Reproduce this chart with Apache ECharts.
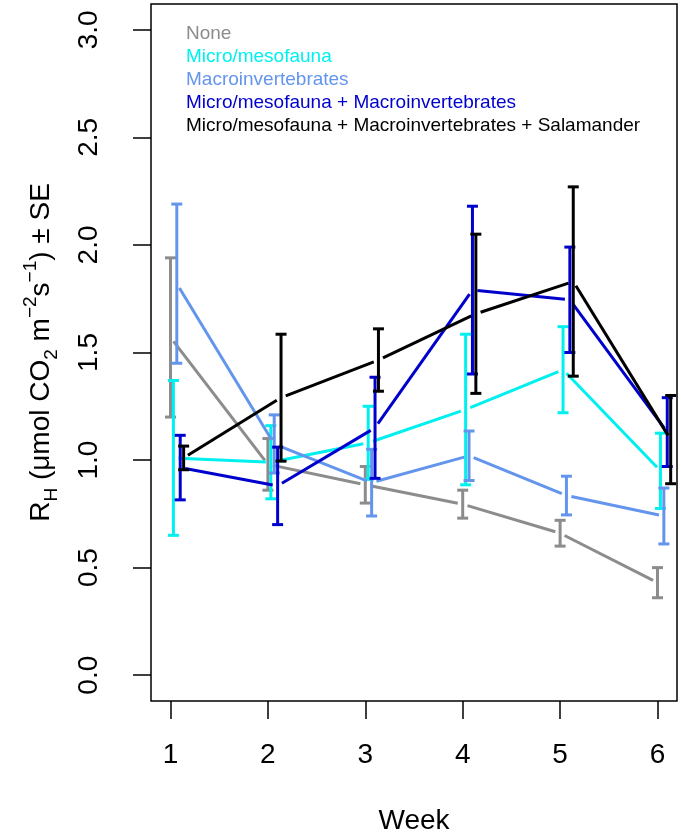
<!DOCTYPE html>
<html><head><meta charset="utf-8">
<script src="https://cdn.jsdelivr.net/npm/echarts@6/dist/echarts.min.js"></script>
<style>html,body{margin:0;padding:0;background:#fff}#c{width:681px;height:840px}</style>
</head><body><div id="c"></div>
<script>
// ---- data ----
const weeks = [1, 2, 3, 4, 5, 6];
const treatments = [
  "None",
  "Micro/mesofauna",
  "Macroinvertebrates",
  "Micro/mesofauna + Macroinvertebrates",
  "Micro/mesofauna + Macroinvertebrates + Salamander"
];
const noneMean  = [1.57, 0.98, 0.885, 0.795, 0.66, 0.43];
const noneSE    = [0.37, 0.12, 0.085, 0.065, 0.06, 0.07];
const microMean = [1.01, 0.99, 1.08, 1.235, 1.42, 0.95];
const microSE   = [0.36, 0.17, 0.17, 0.35, 0.20, 0.175];
const macroMean = [1.82, 1.075, 0.895, 1.02, 0.835, 0.74];
const macroSE   = [0.37, 0.135, 0.155, 0.115, 0.09, 0.13];
const mmMean    = [0.965, 0.88, 1.15, 1.79, 1.745, 1.13];
const mmSE      = [0.15, 0.18, 0.235, 0.39, 0.245, 0.16];
const mmsMean   = [1.01, 1.29, 1.465, 1.68, 1.83, 1.095];
const mmsSE     = [0.055, 0.295, 0.145, 0.37, 0.44, 0.205];
const dodge     = [0, 0.03, 0.065, 0.1, 0.135];   // horizontal offset of each treatment
const yTicks    = [0, 0.5, 1.0, 1.5, 2.0, 2.5, 3.0];
const xTicks    = [1, 2, 3, 4, 5, 6];

const means = [noneMean, microMean, macroMean, mmMean, mmsMean];
const ses   = [noneSE, microSE, macroSE, mmSE, mmsSE];
const colors = ["#8c8c8c", "#00f0f0", "#6495ED", "#0000CD", "#000000"];

const GAP = 5;
const series = [];
treatments.forEach((name, i) => {
  const m = means[i], s = ses[i], col = colors[i];
  const segs = [];
  for (let k = 0; k < weeks.length - 1; k++) {
    segs.push([weeks[k] + dodge[i], m[k], weeks[k + 1] + dodge[i], m[k + 1]]);
  }
  series.push({
    name: name, type: 'custom', z: 2 + i * 2, silent: true,
    itemStyle: { color: col },
    encode: { x: [0, 2], y: [1, 3] },
    data: segs,
    renderItem: function (params, api) {
      const p1 = api.coord([api.value(0), api.value(1)]);
      const p2 = api.coord([api.value(2), api.value(3)]);
      const dx = p2[0] - p1[0], dy = p2[1] - p1[1];
      const L = Math.hypot(dx, dy);
      const ux = dx / L, uy = dy / L;
      return { type: 'line', shape: { x1: p1[0] + ux * GAP, y1: p1[1] + uy * GAP, x2: p2[0] - ux * GAP, y2: p2[1] - uy * GAP },
               style: { stroke: col, lineWidth: 3 } };
    }
  });
  const bars = weeks.map((w, k) => [w + dodge[i], m[k] - s[k], m[k] + s[k]]);
  series.push({
    name: name + " SE", type: 'custom', z: 3 + i * 2, silent: true,
    encode: { x: 0, y: [1, 2] },
    data: bars,
    renderItem: function (params, api) {
      const lo = api.coord([api.value(0), api.value(1)]);
      const hi = api.coord([api.value(0), api.value(2)]);
      const hw = 5.5;
      const st = { stroke: col, lineWidth: 3 };
      return { type: 'group', children: [
        { type: 'line', shape: { x1: lo[0], y1: lo[1], x2: hi[0], y2: hi[1] }, style: st },
        { type: 'line', shape: { x1: lo[0] - hw, y1: lo[1], x2: lo[0] + hw, y2: lo[1] }, style: st },
        { type: 'line', shape: { x1: hi[0] - hw, y1: hi[1], x2: hi[0] + hw, y2: hi[1] }, style: st }
      ]};
    }
  });
});

const chart = echarts.init(document.getElementById('c'), null, { renderer: 'canvas' });
const FONT = 'Liberation Sans, Arial, sans-serif';
chart.setOption({
  animation: false,
  backgroundColor: '#fff',
  textStyle: { fontFamily: FONT },
  grid: { left: 151, right: 4, top: 4, bottom: 136, show: true, borderColor: '#000', borderWidth: 1.5, backgroundColor: 'transparent' },
  legend: {
    orient: 'vertical', left: 176, top: 17, icon: 'none', itemWidth: 0, itemHeight: 18, itemGap: 0,
    selectedMode: false,
    data: treatments.map((t, i) => ({ name: t, textStyle: { color: colors[i] } })),
    textStyle: { fontSize: 19, lineHeight: 23, fontFamily: FONT }
  },
  xAxis: {
    type: 'value', min: 0.8, max: 6.2,
    name: 'Week', nameLocation: 'middle', nameGap: 106,
    nameTextStyle: { fontSize: 28, color: '#000', fontFamily: FONT },
    axisLine: { show: false, onZero: false },
    axisTick: { show: true, length: 18, lineStyle: { color: '#000', width: 1.5 }, customValues: xTicks },
    axisLabel: { show: true, fontSize: 28, color: '#000', margin: 40, customValues: xTicks, formatter: v => String(v) },
    splitLine: { show: false }
  },
  yAxis: {
    type: 'value', min: -0.12, max: 3.12,
    name: '{n|R}{s|H}{n| (μmol CO}{s|2}{n| m}{p|−2}{n|s}{p|−1}{n|) ± SE}',
    nameLocation: 'middle', nameGap: 90, nameRotate: 90,
    nameTextStyle: {
      color: '#000', fontFamily: FONT,
      rich: {
        n: { fontSize: 28, lineHeight: 40, color: '#000', fontFamily: FONT },
        s: { fontSize: 19, lineHeight: 19, verticalAlign: 'bottom', color: '#000', fontFamily: FONT },
        p: { fontSize: 19, lineHeight: 19, verticalAlign: 'top', color: '#000', fontFamily: FONT }
      }
    },
    axisLine: { show: false, onZero: false },
    axisTick: { show: true, length: 18, lineStyle: { color: '#000', width: 1.5 }, customValues: yTicks },
    axisLabel: { show: true, fontSize: 28, color: '#000', margin: 48, rotate: 90, customValues: yTicks,
                 formatter: v => Number(v).toFixed(1) },
    splitLine: { show: false }
  },
  series: series
});
</script>
</body></html>
